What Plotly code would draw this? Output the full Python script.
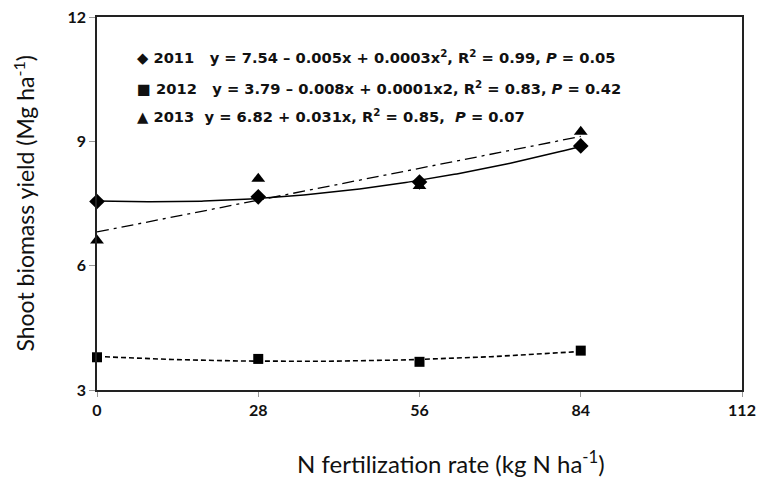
import numpy as np
import plotly.graph_objects as go

x_rates = [0, 28, 56, 84]
y2011 = [7.55, 7.66, 8.02, 8.89]
y2012 = [3.79, 3.75, 3.68, 3.95]
y2013 = [6.61, 8.10, 7.92, 9.23]

x_ticks = [0, 28, 56, 84, 112]
y_ticks = [3, 6, 9, 12]

legend_lines = [
    "◆ 2011   y = 7.54 – 0.005x + 0.0003x<sup>2</sup>, R<sup>2</sup> = 0.99, <i>P</i> = 0.05",
    "■ 2012   y = 3.79 – 0.008x + 0.0001x2, R<sup>2</sup> = 0.83, <i>P</i> = 0.42",
    "▲ 2013  y = 6.82 + 0.031x, R<sup>2</sup> = 0.85,  <i>P</i> = 0.07",
]
x_title = "N fertilization rate (kg N ha<sup>-1</sup>)"
y_title = "Shoot biomass yield (Mg ha<sup>-1</sup>)"

xs = np.linspace(0, 84, 200)
fit11 = np.polyval(np.polyfit(x_rates, y2011, 2), xs)
fit12 = np.polyval(np.polyfit(x_rates, y2012, 2), xs)
fit13 = np.polyval(np.polyfit(x_rates, y2013, 1), xs)

FONT = "Lato, DejaVu Sans"

fig = go.Figure()
fig.add_trace(go.Scatter(x=xs, y=fit11, mode="lines", line=dict(color="black", width=1.5), showlegend=False))
fig.add_trace(go.Scatter(x=xs, y=fit12, mode="lines", line=dict(color="black", width=1.6, dash="5px,3px"), showlegend=False))
fig.add_trace(go.Scatter(x=xs, y=fit13, mode="lines", line=dict(color="black", width=1.3, dash="12px,5px,3px,5px"), showlegend=False))
fig.add_trace(go.Scatter(x=x_rates, y=y2011, mode="markers", marker=dict(symbol="diamond", size=12, color="black"), showlegend=False, cliponaxis=False))
fig.add_trace(go.Scatter(x=x_rates, y=y2012, mode="markers", marker=dict(symbol="square", size=10, color="black"), showlegend=False, cliponaxis=False))
fig.add_trace(go.Scatter(x=x_rates, y=y2013, mode="markers", marker=dict(symbol="triangle-up", size=12, color="black"), showlegend=False, cliponaxis=False))

leg_y = [0.893, 0.812, 0.735]
for i, t in enumerate(legend_lines):
    fig.add_annotation(x=0.059, y=leg_y[i], xref="paper", yref="paper", xanchor="left", yanchor="middle",
                       text="<b>" + t + "</b>", showarrow=False,
                       font=dict(family="DejaVu Sans", size=14.7, color="#111"))

fig.add_annotation(x=0.307, y=-0.193, xref="paper", yref="paper", xanchor="left", yanchor="middle",
                   text=x_title, showarrow=False, font=dict(family=FONT, size=24, color="#111"))
fig.add_annotation(x=-0.113, y=0.50, xref="paper", yref="paper", xanchor="center", yanchor="middle",
                   text=y_title, textangle=-90, showarrow=False, font=dict(family=FONT, size=23, color="#111"))

fig.update_xaxes(range=[0, 112], tickvals=x_ticks, ticktext=["<b>%d</b>" % v for v in x_ticks],
                 ticks="outside", ticklen=5, tickcolor="#999", automargin=False,
                 showline=True, linecolor="#222", linewidth=1.5, mirror=True, showgrid=False, zeroline=False,
                 tickfont=dict(family=FONT, size=16, color="#111"))
fig.update_yaxes(range=[3, 12], tickvals=y_ticks, ticktext=["<b>%d</b>" % v for v in y_ticks],
                 ticks="outside", ticklen=6, tickcolor="#999", automargin=False,
                 showline=True, linecolor="#222", linewidth=1.5, mirror=True, showgrid=False, zeroline=False,
                 tickfont=dict(family=FONT, size=16, color="#111"))
fig.update_layout(width=760, height=478, margin=dict(l=97, r=18, t=17, b=88),
                  plot_bgcolor="white", paper_bgcolor="white")
fig.write_html("out.html", config={"displayModeBar": False},
               post_script="document.body.style.margin='0';document.body.style.overflow='hidden';")
